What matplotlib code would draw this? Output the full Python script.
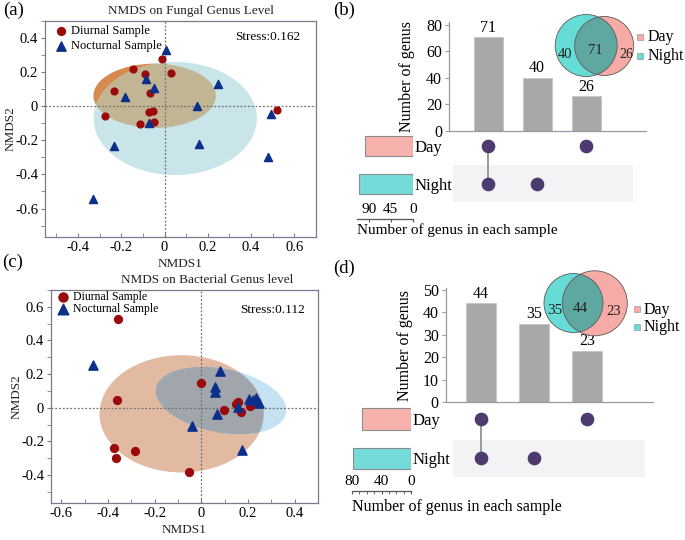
import numpy as np
import matplotlib
matplotlib.use("Agg")
import matplotlib.pyplot as plt
from matplotlib.patches import Ellipse, Circle
from matplotlib.transforms import Affine2D
from matplotlib.legend import Legend

plt.rcParams['font.family'] = ['Liberation Serif', 'DejaVu Serif']

W, H = 685, 540

# ---------------- data ----------------
# NMDS, fungal genus level
fung_day_x = [-0.012, -0.144, -0.090, 0.031, -0.234, -0.068, -0.276, -0.074, -0.053, -0.116, -0.050, 0.518]
fung_day_y = [0.275, 0.220, 0.190, 0.193, 0.088, 0.078, -0.057, -0.035, -0.027, -0.107, -0.094, -0.020]
fung_night_x = [0.006, -0.084, -0.050, -0.184, 0.245, 0.152, -0.074, -0.234, 0.160, 0.490, 0.480, -0.329]
fung_night_y = [0.328, 0.158, 0.105, 0.053, 0.131, 0.004, -0.100, -0.234, -0.223, -0.047, -0.300, -0.547]
fung_stress = 0.162

# NMDS, bacterial genus level
bact_day_x = [-0.356, -0.364, 0.000, -0.374, -0.367, -0.283, -0.054, 0.095, 0.159, 0.171, 0.210, 0.150]
bact_day_y = [0.527, 0.048, 0.150, -0.240, -0.300, -0.255, -0.384, -0.012, 0.032, -0.028, 0.012, 0.022]
bact_night_x = [-0.465, 0.081, 0.057, 0.057, 0.203, 0.232, 0.246, 0.159, 0.067, -0.041, 0.174, 0.220]
bact_night_y = [0.255, 0.216, 0.123, 0.091, 0.053, 0.058, 0.028, 0.002, -0.038, -0.111, -0.250, 0.044]
bact_stress = 0.112

# upset / venn: columns are (Day & Night, Night only, Day only)
combo_day = [1, 0, 1]
combo_night = [1, 1, 0]
fung_counts = [71, 40, 26]
bact_counts = [44, 35, 23]
sets = ['Day', 'Night']
fung_set_sizes = [97, 111]
bact_set_sizes = [67, 79]

# ---------------- style ----------------
red = '#9a0a0a'
navy = '#0b2f8a'
pink = '#f8b2ad'
cyan = '#74dbd8'
venn_pink = '#f6aba6'
venn_cyan = '#66dcd6'
venn_mid = '#5fa7a1'
bar_grey = '#a8a8a8'
dot_col = '#4d3b70'
spine_col = '#7a7a8c'

fig = plt.figure(figsize=(W / 100, H / 100), dpi=100)


def px_axes(l, t, r, b):
    return fig.add_axes([l / W, 1 - b / H, (r - l) / W, (b - t) / H])


def nmds_panel(box, xlim, ylim, xticks, yticks, dx, dy, nx, ny, title, title_x,
               stress, ell_day, ell_night, cols, msize, legsize, leg_anchor, legspace):
    ax = px_axes(*box)
    ax.set_xlim(*xlim)
    ax.set_ylim(*ylim)
    # ellipses are defined in pixel-like units so a rotation looks right on screen
    kx = (box[2] - box[0]) / (xlim[1] - xlim[0])
    ky = (box[3] - box[1]) / (ylim[1] - ylim[0])
    tr = Affine2D().scale(1 / kx, 1 / ky) + ax.transData
    (cx, cy, w, h, ang) = ell_day
    e_day = Ellipse((cx * kx, cy * ky), w * kx, h * ky, angle=ang, transform=tr,
                    facecolor=cols[0], edgecolor='none', zorder=1)
    ax.add_patch(e_day)
    (cx, cy, w, h, ang) = ell_night
    e_night = Ellipse((cx * kx, cy * ky), w * kx, h * ky, angle=ang, transform=tr,
                      facecolor=cols[1], edgecolor='none', zorder=1)
    ax.add_patch(e_night)
    e_mid = Ellipse((cx * kx, cy * ky), w * kx, h * ky, angle=ang, transform=tr,
                    facecolor=cols[2], edgecolor='none', zorder=1.5)
    ax.add_patch(e_mid)
    e_mid.set_clip_path(e_day)

    ax.axhline(0, color='#707070', ls=(0, (1.5, 1.5)), lw=0.9, zorder=2)
    ax.axvline(0, color='#707070', ls=(0, (1.5, 1.5)), lw=0.9, zorder=2)

    ax.scatter(dx, dy, s=msize[0], marker='o', color=red, zorder=3, label='Diurnal Sample')
    ax.scatter(nx, ny, s=msize[1], marker='^', color=navy, zorder=3, label='Nocturnal Sample')

    ax.set_xticks(xticks)
    ax.set_yticks(yticks)
    ax.set_xticklabels(['0' if abs(v) < 1e-9 else f'{v:.1f}' for v in xticks])
    ax.set_yticklabels(['0' if abs(v) < 1e-9 else f'{v:.1f}' for v in yticks])
    ax.xaxis.set_minor_locator(matplotlib.ticker.MultipleLocator(0.1))
    ax.yaxis.set_minor_locator(matplotlib.ticker.MultipleLocator(0.1))
    ax.tick_params(axis='y', which='both', direction='out', length=3, labelsize=10.5,
                   color=spine_col, pad=2)
    ax.tick_params(axis='x', which='both', direction='in', length=3, labelsize=10.5,
                   color=spine_col, pad=3)
    for s in ax.spines.values():
        s.set_color(spine_col)
        s.set_linewidth(0.9)
    ax.set_xlabel('NMDS1', fontsize=9.5, labelpad=3, color='#222222')
    ax.set_ylabel('NMDS2', fontsize=9.5, labelpad=-1, color='#222222')
    ax.set_title(title, fontsize=9.5, x=title_x, pad=5, color='#222222')
    ax.text(stress[0], stress[1], f'Stress:{stress[2]:.3f}', transform=ax.transAxes,
            fontsize=9.5, ha='center', va='center')
    ax.legend(loc='upper left', bbox_to_anchor=leg_anchor, frameon=False,
              fontsize=legsize, handletextpad=0.3, labelspacing=legspace,
              borderaxespad=0, borderpad=0, handlelength=1.0, markerscale=1.15)
    return ax


# ---------------- (a) fungal NMDS ----------------
nmds_panel((45, 21, 316, 237), (-0.553, 0.70), (-0.767, 0.50),
           [-0.4, -0.2, 0.0, 0.2, 0.4, 0.6], [-0.6, -0.4, -0.2, 0.0, 0.2, 0.4],
           fung_day_x, fung_day_y, fung_night_x, fung_night_y,
           'NMDS on Fungal Genus Level', 0.54, (0.82, 0.926, fung_stress),
           (-0.046, 0.0615, 0.566, 0.377, 0), (0.049, -0.072, 0.755, 0.663, 0),
           ('#d68b4e', '#c9e5e9', '#c2b594'), (24, 34), 9, (0.037, 0.982), 0.25)

# ---------------- (c) bacterial NMDS ----------------
nmds_panel((51, 290, 318, 503), (-0.645, 0.50), (-0.566, 0.70),
           [-0.6, -0.4, -0.2, 0.0, 0.2, 0.4], [-0.4, -0.2, 0.0, 0.2, 0.4, 0.6],
           bact_day_x, bact_day_y, bact_night_x, bact_night_y,
           'NMDS on Bacterial Genus level', 0.583, (0.83, 0.906, bact_stress),
           (-0.085, -0.036, 0.704, 0.697, 0), (0.084, 0.043, 0.568, 0.38, -10.8),
           ('#e2baa1', '#c4e2f1', '#a0a6ab'), (32, 44), 8.5, (0.024, 0.996), 0.05)


# ---------------- upset panels ----------------
def upset_panel(g, counts, set_sizes, left_ticks, left_minor, ymax, yticks):
    xl = g['xlim']
    # bars
    ax = px_axes(*g['bar'])
    pos = np.arange(len(counts))
    bars = ax.bar(pos, counts, width=g['bw'], color=bar_grey, edgecolor='#c4c4c4', lw=0.6)
    ax.bar_label(bars, padding=1, fontsize=11.5)
    ax.set_xlim(*xl)
    ax.set_ylim(0, ymax)
    ax.set_yticks(yticks)
    ax.set_xticks([])
    ax.spines[['top', 'right']].set_visible(False)
    for s in ('left', 'bottom'):
        ax.spines[s].set_color('#9a9aa4')
        ax.spines[s].set_linewidth(0.9)
    ax.tick_params(axis='y', direction='out', length=3, labelsize=11.5, pad=2, color='#9a9aa4')
    ax.set_ylabel('Number of genus', fontsize=11.5, labelpad=g['ylp'])
    ax.patch.set_alpha(0)

    # membership matrix
    am = px_axes(*g['mat'])
    am.set_xlim(*xl)
    am.set_ylim(-0.5, 1.5)
    am.axis('off')
    bx0, bx1, by0, by1 = g['band']
    am.fill_between([bx0, bx1], by0, by1, color='#f3f3f5', lw=0, zorder=0)
    for i in pos:
        if combo_day[i] and combo_night[i]:
            am.plot([i, i], [0, 1], color='#9a9a9a', lw=1.4, zorder=1)
        if combo_day[i]:
            am.scatter(i, 1, s=g['ds'], color=dot_col, zorder=2)
        if combo_night[i]:
            am.scatter(i, 0, s=g['ds'], color=dot_col, zorder=2)

    # set size bars
    al = px_axes(*g['left'])
    al.barh([1, 0], set_sizes, height=g['bh'], color=[pink, cyan], edgecolor='#8c8c8c', lw=0.8)
    al.set_xlim(g['lxmax'], 0)
    al.set_ylim(g['lylo'], 1.5)
    al.set_yticks([1, 0])
    al.set_yticklabels(sets)
    al.yaxis.tick_right()
    al.tick_params(axis='y', length=0, pad=1, labelsize=12)
    al.set_xticks(left_ticks)
    if left_minor:
        al.xaxis.set_minor_locator(matplotlib.ticker.MultipleLocator(left_minor))
    al.tick_params(axis='x', which='both', direction='out', length=2.5, pad=-14,
                   labelsize=11, color='#555555')
    for s in ('top', 'right', 'left'):
        al.spines[s].set_visible(False)
    al.spines['bottom'].set_color('#555555')
    al.spines['bottom'].set_linewidth(0.9)
    al.patch.set_alpha(0)
    al.set_xlabel('Number of genus in each sample', fontsize=g['xfs'], loc='left')
    al.xaxis.set_label_coords(0, g['lab_y'])
    al.xaxis.label.set_va('top')
    return ax


gb = dict(bar=(449, 21.7, 646, 130.7), mat=(449, 127.15, 646, 202.55),
          left=(356.7, 127.15, 412.7, 219), xlim=(-0.8, 3.22), bw=0.6,
          band=(-0.72, 2.95, -0.49, 0.49), ds=78, bh=0.53, lxmax=115,
          lylo=-0.936, lab_y=-0.05, ylp=8, xfs=11)
upset_panel(gb, fung_counts, fung_set_sizes, [90, 45, 0], None, 82.5, [0, 20, 40, 60, 80])

gd = dict(bar=(445.7, 288.3, 652.7, 402.3), mat=(445.7, 399.35, 652.7, 477.95),
          left=(352, 399.35, 411.3, 490.7), xlim=(-0.666, 3.24), bw=0.58,
          band=(-0.52, 3.09, -0.468, 0.466), ds=78, bh=0.545, lxmax=80,
          lylo=-0.824, lab_y=-0.095, ylp=7, xfs=11.5)
upset_panel(gd, bact_counts, bact_set_sizes, [80, 40, 0], 10, 50.7, [0, 10, 20, 30, 40, 50])

# ---------------- venn overlays (pixel coordinates) ----------------
av = fig.add_axes([0, 0, 1, 1])
av.set_xlim(0, W)
av.set_ylim(H, 0)
av.axis('off')


def venn(c_night, r_night, c_day, r_day, counts, txt_pos, fs, leg_xy, leg_space, leg_fs):
    cn = Circle(c_night, r_night, facecolor=venn_cyan, edgecolor='none')
    cd = Circle(c_day, r_day, facecolor=venn_pink, edgecolor='none')
    av.add_patch(cn)
    av.add_patch(cd)
    mid = Circle(c_night, r_night, facecolor=venn_mid, edgecolor='none')
    av.add_patch(mid)
    mid.set_clip_path(cd)
    av.add_patch(Circle(c_night, r_night, facecolor='none', edgecolor='#5a5a5a', lw=0.6))
    av.add_patch(Circle(c_day, r_day, facecolor='none', edgecolor='#5a5a5a', lw=0.6))
    # night only, shared, day only
    vals = [counts[1], counts[0], counts[2]]
    for v, p, f in zip(vals, txt_pos, fs):
        av.text(p[0], p[1], str(v), ha='center', va='center', fontsize=f, color='#222222')
    h1 = av.scatter([], [], marker='s', s=14, color=venn_pink, edgecolor='#8a8a8a', lw=0.4)
    h2 = av.scatter([], [], marker='s', s=14, color=venn_cyan, edgecolor='#8a8a8a', lw=0.4)
    leg = Legend(av, [h1, h2], sets, loc='center left', bbox_to_anchor=leg_xy,
                 bbox_transform=av.transData, frameon=False, fontsize=leg_fs,
                 handletextpad=0.2, labelspacing=leg_space, borderpad=0, borderaxespad=0,
                 handlelength=0.5)
    av.add_artist(leg)


venn((586.2, 45.5), 31, (604.2, 46), 29.5, fung_counts,
     [(565, 54), (595, 51), (626, 54)], [10.5, 10.5, 10], (636.2, 46.8), 0.2, 11.5)
venn((573.5, 303), 29.5, (594.8, 303.3), 32.5, bact_counts,
     [(555, 311), (580, 308), (614, 311.5)], [11, 11, 10.5], (632.9, 318.3), 0.08, 11.5)

# panel letters
for lab, x, y in [('(a)', 3, 10), ('(b)', 333, 10), ('(c)', 2, 262), ('(d)', 333, 268)]:
    fig.text(x / W, 1 - y / H, lab, fontsize=13.5, ha='left', va='center')

fig.savefig('out.png', dpi=100)
